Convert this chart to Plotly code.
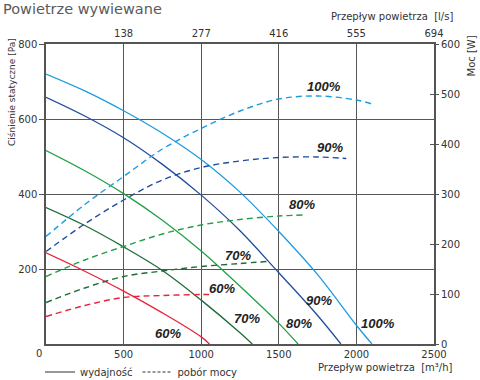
import plotly.graph_objects as go

# ---- data ----
levels = ["100%", "90%", "80%", "70%", "60%"]
colors = ["#1e9be0", "#1f4e9e", "#1fa045", "#1d6b36", "#e8233b"]

# static pressure [Pa] vs flow [m3/h] (solid)
p_x_100 = [0, 250, 500, 750, 1000, 1250, 1500, 1750, 2000, 2100]
p_y_100 = [720, 675, 622, 562, 492, 405, 300, 185, 50, 0]
p_x_90 = [0, 250, 500, 750, 1000, 1250, 1500, 1750, 1900]
p_y_90 = [658, 608, 550, 479, 397, 302, 190, 76, 0]
p_x_80 = [0, 250, 500, 750, 1000, 1250, 1500, 1624]
p_y_80 = [516, 462, 401, 330, 248, 154, 55, 0]
p_x_70 = [0, 250, 500, 750, 1000, 1250, 1329]
p_y_70 = [364, 316, 259, 196, 117, 30, 0]
p_x_60 = [0, 250, 500, 750, 1000, 1053]
p_y_60 = [243, 194, 141, 83, 19, 0]

# power [W] vs flow [m3/h] (dashed)
w_x_100 = [0, 250, 500, 750, 1000, 1250, 1500, 1750, 2000, 2100]
w_y_100 = [215, 279, 335, 390, 431, 466, 490, 496, 488, 480]
w_x_90 = [0, 250, 500, 750, 1000, 1250, 1500, 1750, 1935]
w_y_90 = [185, 240, 288, 328, 353, 366, 373, 374, 371]
w_x_80 = [0, 250, 500, 750, 1000, 1250, 1500, 1673]
w_y_80 = [135, 168, 195, 220, 238, 249, 256, 258]
w_x_70 = [0, 250, 500, 750, 1000, 1250, 1420]
w_y_70 = [83, 112, 135, 146, 155, 161, 165]
w_x_60 = [0, 250, 500, 750, 1000, 1077]
w_y_60 = [55, 77, 93, 97, 99, 99]

x_ticks = [500, 1000, 1500, 2000, 2500]
x_tick_labels = ["500", "1000", "1500", "2000", "2500"]
top_tick_labels = ["138", "277", "416", "555", "694"]
y_ticks = [200, 400, 600, 800]
w_ticks = [0, 100, 200, 300, 400, 500, 600]

pressure = [(p_x_100, p_y_100), (p_x_90, p_y_90), (p_x_80, p_y_80),
            (p_x_70, p_y_70), (p_x_60, p_y_60)]
power = [(w_x_100, w_y_100), (w_x_90, w_y_90), (w_x_80, w_y_80),
         (w_x_70, w_y_70), (w_x_60, w_y_60)]

FONT = "DejaVu Sans"
TXT = "#333333"
GRID = "#555555"
W, H = 480, 380

fig = go.Figure()

for (xs, ys), c in zip(power, colors):
    fig.add_trace(go.Scatter(x=xs, y=ys, yaxis="y2", mode="lines",
                             line=dict(color=c, width=1.4, dash="6px,4px", shape="spline"),
                             showlegend=False, hoverinfo="skip"))
for (xs, ys), c in zip(pressure, colors):
    fig.add_trace(go.Scatter(x=xs, y=ys, mode="lines",
                             line=dict(color=c, width=1.3, shape="spline"),
                             showlegend=False, hoverinfo="skip"))

# empty trace so the top (l/s) axis and inner right ticks are drawn
fig.add_trace(go.Scatter(x=[None], y=[None], xaxis="x2", yaxis="y3", mode="lines",
                         showlegend=False, hoverinfo="skip"))

# legend entries
fig.add_trace(go.Scatter(x=[None], y=[None], mode="lines", name="wydajność",
                         line=dict(color="#333333", width=1)))
fig.add_trace(go.Scatter(x=[None], y=[None], mode="lines", name="pobór mocy",
                         line=dict(color="#333333", width=1, dash="3px,2px")))

# curve labels (solid = pressure, dashed = power), placed in pressure coordinates
label_pos = [
    ("100%", 1789, 688), ("90%", 1828, 523), ("80%", 1652, 373),
    ("70%", 1240, 237), ("60%", 1131, 149),
    ("60%", 788, 27), ("70%", 1292, 67), ("80%", 1628, 56),
    ("90%", 1757, 117), ("100%", 2138, 56),
]
annotations = []
for t, xv, yv in label_pos:
    annotations.append(dict(x=xv, y=yv, xref="x", yref="y", text="<b><i>" + t + "</i></b>",
                            showarrow=False, font=dict(family="Liberation Sans", size=13, color="#222222")))


def cx(px):
    return px / W


def cy(py):
    return (H - py) / H


annotations += [
    dict(text="Powietrze wywiewane", xref="paper", yref="paper", x=(1 - 46) / 388, y=(344 - 9) / 300,
         xanchor="left", yanchor="middle", showarrow=False,
         font=dict(family=FONT, size=14.5, color="#5a5a5a")),
    dict(text="Przepływ powietrza  [l/s]", xref="paper", yref="paper", x=(455 - 46) / 388, y=(344 - 17) / 300,
         xanchor="right", yanchor="middle", showarrow=False,
         font=dict(family=FONT, size=10, color=TXT)),
    dict(text="Przepływ powietrza  [m³/h]", xref="paper", yref="paper", x=(455 - 46) / 388, y=(344 - 367) / 300,
         xanchor="right", yanchor="middle", showarrow=False,
         font=dict(family=FONT, size=10, color=TXT)),
    dict(text="Ciśnienie statyczne [Pa]", xref="paper", yref="paper", x=(12 - 46) / 388, y=(344 - 36) / 300,
         xanchor="center", yanchor="top", textangle=-90, showarrow=False,
         font=dict(family=FONT, size=9, color=TXT)),
    dict(text="Moc [W]", xref="paper", yref="paper", x=(471 - 46) / 388, y=(344 - 34) / 300,
         xanchor="center", yanchor="top", textangle=-90, showarrow=False,
         font=dict(family=FONT, size=10, color=TXT)),
    dict(text="0", xref="paper", yref="paper", x=(39 - 46) / 388, y=(344 - 353) / 300,
         xanchor="center", yanchor="middle", showarrow=False,
         font=dict(family=FONT, size=10, color=TXT)),
]

tickfont = dict(family=FONT, size=10, color=TXT)

fig.update_layout(
    width=W, height=H,
    margin=dict(l=46, r=46, t=44, b=36, autoexpand=False),
    paper_bgcolor="white", plot_bgcolor="white",
    showlegend=True,
    legend=dict(orientation="h", xref="container", yref="container", x=cx(40), y=cy(372),
                xanchor="left", yanchor="middle",
                font=dict(family=FONT, size=10, color=TXT), itemwidth=30,
                bgcolor="rgba(0,0,0,0)", tracegroupgap=0),
    xaxis=dict(range=[0, 2500], tickvals=x_ticks, ticktext=x_tick_labels, tickfont=tickfont,
               showgrid=True, gridcolor=GRID, gridwidth=1, showline=True, linecolor=GRID,
               linewidth=1.5, mirror=True, ticks="", zeroline=False, fixedrange=True),
    xaxis2=dict(range=[0, 2500], overlaying="x", side="top", anchor="y",
                tickvals=x_ticks, ticktext=top_tick_labels, tickfont=tickfont,
                showgrid=False, showline=False, ticks="", zeroline=False, ticklabelstandoff=4),
    yaxis=dict(range=[0, 800], tickvals=y_ticks, tickfont=tickfont, showgrid=True, gridcolor=GRID,
               gridwidth=1, showline=True, linecolor=GRID, linewidth=1.5, mirror=True,
               ticks="outside", ticklen=5, tickcolor=GRID, zeroline=False),
    yaxis2=dict(range=[0, 600], overlaying="y", side="right", anchor="x", tickvals=w_ticks,
                tickfont=tickfont, showgrid=False, zeroline=False, ticks="outside",
                ticklen=4, tickcolor=GRID, showline=False),
    yaxis3=dict(range=[0, 600], overlaying="y", side="right", anchor="x", tickvals=w_ticks,
                showticklabels=False, showgrid=False, zeroline=False, ticks="inside",
                ticklen=4, tickcolor=GRID, showline=False),
    annotations=annotations,
)

fig.write_html("out.html", config={"displayModeBar": False},
               post_script="document.body.style.margin='0';")
